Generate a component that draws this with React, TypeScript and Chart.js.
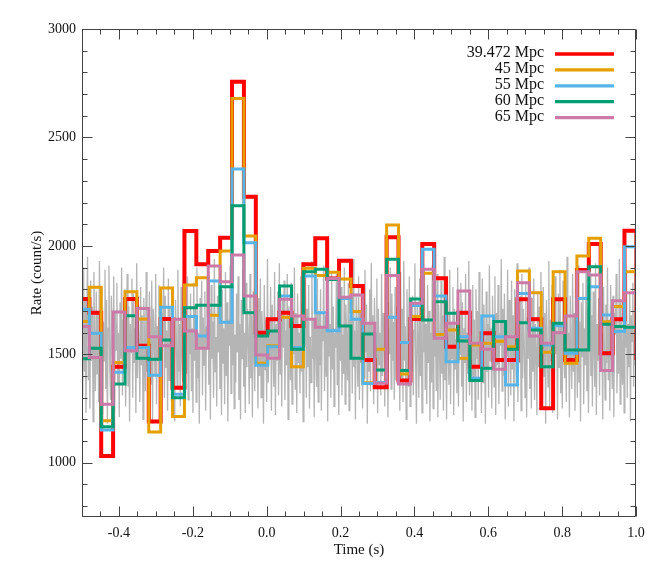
import React, { useEffect, useRef } from 'react';
import { Chart, registerables } from 'chart.js';

Chart.register(...registerables);

// Histogram binning (seconds)
const binStart = -0.5124;
const binWidth = 0.0322;

// Binned rates (count/s), one value per bin
const rate39472 = [1755, 1692, 1031, 1443, 1755, 1539, 1190, 1663, 1346, 2069, 1915, 1977, 2038, 2757, 2227, 1600, 1662, 1692, 1631, 1915, 2035, 1850, 1932, 1815, 1474, 1348, 2040, 1379, 1663, 2009, 1851, 1535, 1692, 1443, 1597, 1474, 1474, 1754, 1662, 1251, 1754, 1474, 1889, 2009, 1505, 1662, 2070, 1474];
const rate45 = [1651, 1809, 1194, 1462, 1789, 1663, 1142, 1806, 1213, 1820, 1853, 1680, 1977, 2680, 2046, 1459, 1540, 1671, 1443, 1897, 1863, 1878, 1847, 1697, 1369, 1523, 2096, 1409, 1674, 1874, 1592, 1612, 1482, 1543, 1551, 1560, 1535, 1884, 1784, 1510, 1881, 1459, 1953, 2035, 1650, 1720, 1881, 1566];
const rate55 = [1708, 1597, 1151, 1417, 1532, 1532, 1403, 1717, 1316, 1674, 1585, 1838, 1648, 2355, 2015, 1450, 1535, 1769, 1532, 1861, 1692, 1609, 1757, 1662, 1366, 1370, 1671, 1554, 1725, 1984, 1769, 1466, 1581, 1390, 1677, 1581, 1359, 1781, 1620, 1543, 1632, 1505, 1758, 1812, 1681, 1605, 1996, 1720];
const rate60 = [1480, 1528, 1166, 1363, 1678, 1482, 1477, 1566, 1300, 1715, 1726, 1726, 1812, 2185, 1692, 1585, 1608, 1815, 1523, 1881, 1892, 1845, 1631, 1482, 1594, 1428, 1938, 1425, 1755, 1658, 1743, 1689, 1562, 1379, 1436, 1651, 1523, 1646, 1612, 1443, 1643, 1520, 1520, 1904, 1639, 1628, 1625, 1689];
const rate65 = [1628, 1485, 1270, 1695, 1517, 1711, 1581, 1540, 1662, 1608, 1528, 1907, 1835, 1958, 1769, 1497, 1482, 1754, 1677, 1662, 1625, 1850, 1763, 1774, 1643, 1367, 1864, 1363, 1735, 1892, 1574, 1643, 1792, 1551, 1523, 1431, 1581, 1830, 1585, 1551, 1600, 1677, 1881, 1866, 1425, 1747, 1784, 1512];

const seriesLabels = ['39.472 Mpc', '45 Mpc', '55 Mpc', '60 Mpc', '65 Mpc'];
const seriesColors = ['#ff0000', '#e69f00', '#56b4e9', '#009e73', '#cc79a7'];
const seriesWidths = [4, 3, 3, 3, 3];

// Fine-resolution light curve (count/s), evenly spaced from -0.5 s to 1.0 s
const fineStart = -0.5;
const fineEnd = 1.0;
const fineRate = [
  1820, 1310, 1900, 1420, 1760, 1230, 1680, 1950, 1380, 1600, 1250, 1840, 1470, 1720, 1190, 1880, 1540, 1330, 1790, 1410,
  1700, 1280, 1930, 1500, 1360, 1810, 1220, 1650, 1470, 1890, 1340, 1750, 1180, 1620, 1910, 1450, 1290, 1770, 1560, 1400,
  1860, 1240, 1690, 1520, 1830, 1370, 1600, 1210, 1740, 1480, 1900, 1310, 1660, 1430, 1800, 1260, 1580, 1870, 1350, 1720,
  1190, 1640, 1510, 1850, 1300, 1780, 1460, 1620, 1230, 1920, 1390, 1700, 1540, 1280, 1810, 1450, 1680, 1200, 1760, 1570,
  1330, 1880, 1420, 1650, 1250, 1790, 1500, 1360, 1840, 1180, 1710, 1590, 1400, 1870, 1270, 1630, 1480, 1820, 1340, 1740,
  1210, 1690, 1560, 1900, 1300, 1770, 1440, 1610, 1240, 1850, 1380, 1720, 1520, 1280, 1800, 1460, 1660, 1190, 1750, 1590,
  1350, 1890, 1420, 1640, 1260, 1810, 1490, 1370, 1930, 1220, 1700, 1550, 1410, 1860, 1290, 1680, 1500, 1780, 1330, 1620,
  1230, 1830, 1470, 1720, 1280, 1900, 1390, 1600, 1180, 1760, 1530, 1840, 1310, 1670, 1450, 1790, 1240, 1630, 1560, 1880,
  1360, 1710, 1200, 1820, 1480, 1650, 1300, 1940, 1420, 1580, 1260, 1770, 1510, 1850, 1340, 1690, 1220, 1800, 1460, 1620,
  1270, 1880, 1400, 1740, 1190, 1660, 1540, 1910, 1320, 1700, 1450, 1820, 1250, 1590, 1370, 1780, 1510, 1860, 1290, 1640,
  1200, 1750, 1480, 1890, 1350, 1600, 1230, 1830, 1440, 1710, 1560, 1270, 1870, 1390, 1680, 1210, 1790, 1520, 1330, 1900,
  1460, 1620, 1250, 1760, 1400, 1850, 1300, 1700, 1570, 1180, 1820, 1430, 1660, 1280, 1940, 1370, 1590, 1490, 1810, 1240,
  1730, 1550, 1350, 1880, 1220, 1640, 1470, 1790, 1310, 1920, 1410, 1680, 1260, 1750, 1530, 1840, 1290, 1610, 1450, 1870,
  1200, 1720, 1580, 1380, 1830, 1270, 1650, 1500, 1900, 1340, 1690, 1230, 1780, 1460, 1600, 1320, 1860, 1420, 1740, 1190,
  1630, 1540, 1890, 1300, 1710, 1440, 1820, 1250, 1580, 1370, 1930, 1480, 1660, 1210, 1770, 1520, 1350, 1850, 1280, 1700,
  1450, 1800, 1240, 1620, 1560, 1910, 1330, 1680, 1400, 1760, 1190, 1840, 1490, 1640, 1300, 1880, 1430, 1720, 1260, 1600,
  1530, 1870, 1360, 1750, 1220, 1690, 1470, 1810, 1310, 1590, 1410, 1900, 1270, 1730, 1550, 1380, 1830, 1240, 1660, 1500,
  1790, 1320, 1940, 1440, 1610, 1200, 1780, 1570, 1350, 1860, 1290, 1700, 1460, 1820, 1250, 1650, 1390, 1890, 1510, 1730,
  1180, 1640, 1420, 1800, 1330, 1920, 1480, 1680, 1270, 1760, 1540, 1370, 1850, 1230, 1710, 1450, 1600, 1310, 1870, 1400,
  1690, 1560, 1260, 1830, 1430, 1740, 1210, 1620, 1500, 1900, 1340, 1780, 1470, 1650, 1290, 1810, 1380, 1720, 1550, 1840,
  1560, 1240, 1880, 1390, 1710, 1280, 1930, 1470, 1630, 1200, 1800, 1540, 1350, 1860, 1260, 1690, 1420, 1770, 1310, 1610,
  1920, 1450, 1180, 1740, 1580, 1300, 1850, 1400, 1670, 1230, 1790, 1510, 1890, 1340, 1640, 1270, 1820, 1460, 1700, 1190,
  1600, 1370, 1910, 1250, 1760, 1490, 1620, 1330, 1870, 1210, 1730, 1550, 1290, 1840, 1410, 1680, 1240, 1950, 1380, 1590,
  1200, 1780, 1520, 1360, 1890, 1270, 1650, 1480, 1810, 1220, 1710, 1430, 1570, 1320, 1900, 1260, 1690, 1500, 1830, 1350,
  1740, 1190, 1620, 1460, 1870, 1280, 1600, 1410, 1930, 1310, 1760, 1530, 1240, 1820, 1390, 1660, 1210, 1800, 1480, 1700,
  1290, 1880, 1440, 1580, 1230, 1850, 1370, 1730, 1560, 1180, 1790, 1420, 1640, 1300, 1910, 1470, 1620, 1250, 1770, 1510,
  1350, 1860, 1220, 1690, 1450, 1820, 1270, 1600, 1540, 1940, 1330, 1710, 1400, 1780, 1200, 1650, 1490, 1890, 1260, 1750,
  1580, 1310, 1840, 1430, 1680, 1190, 1800, 1520, 1360, 1920, 1280, 1620, 1460, 1770, 1240, 1870, 1390, 1710, 1550, 1300,
  1830, 1210, 1670, 1480, 1900, 1340, 1590, 1250, 1760, 1420, 1850, 1290, 1640, 1510, 1220, 1790, 1440, 1720, 1330, 1880,
  1600, 1270, 1810, 1400, 1690, 1180, 1750, 1560, 1350, 1930, 1260, 1660, 1470, 1820, 1230, 1700, 1380, 1860, 1500, 1610,
  1200, 1780, 1440, 1890, 1320, 1640, 1250, 1840, 1530, 1390, 1720, 1280, 1950, 1460, 1600, 1210, 1770, 1510, 1340, 1870,
  1420, 1690, 1240, 1800, 1570, 1300, 1910, 1370, 1650, 1190, 1740, 1490, 1830, 1270, 1620, 1450, 1880, 1330, 1710, 1230,
  1580, 1860, 1400, 1680, 1260, 1790, 1520, 1350, 1920, 1220, 1640, 1470, 1760, 1310, 1850, 1430, 1600, 1200, 1810, 1550,
  1290, 1730, 1460, 1900, 1380, 1660, 1240, 1820, 1500, 1340, 1770, 1210, 1690, 1590, 1870, 1320, 1620, 1410, 1940, 1270,
  1750, 1480, 1360, 1840, 1230, 1700, 1530, 1890, 1300, 1640, 1440, 1780, 1190, 1680, 1560, 1830, 1350, 1610, 1450, 1860,
];

const xTickValues = [-0.4, -0.2, 0.0, 0.2, 0.4, 0.6, 0.8, 1.0];
const yTickValues = [1000, 1500, 2000, 2500, 3000];
const xMinorStep = 0.05;
const yMinorStep = 100;
const xRange = [-0.5, 1.0];
const yRange = [750, 3000];
const xTitle = 'Time (s)';
const yTitle = 'Rate (count/s)';

const FONT = "'Liberation Serif', 'Times New Roman', serif";

function stepPoints(values: number[]) {
  const pts = values.map((v, i) => ({ x: binStart + i * binWidth, y: v }));
  pts.push({ x: binStart + values.length * binWidth, y: values[values.length - 1] });
  return pts;
}

const framePlugin = {
  id: 'idlFrame',
  afterDatasetsDraw(chart: any) {
    const { ctx, chartArea: a, scales } = chart;
    const xs = scales.x;
    const ys = scales.y;
    ctx.save();
    ctx.strokeStyle = '#444';
    ctx.lineWidth = 1;
    const L = Math.round(a.left) + 0.5;
    const R = Math.round(a.right) - 0.5;
    const T = Math.round(a.top) + 0.5;
    const B = Math.round(a.bottom) - 0.5;
    ctx.beginPath();
    ctx.moveTo(L, T); ctx.lineTo(R, T); ctx.lineTo(R, B); ctx.lineTo(L, B); ctx.closePath();
    ctx.stroke();

    const near = (v: number, arr: number[]) => arr.some((t) => Math.abs(t - v) < 1e-6);
    ctx.beginPath();
    for (let v = xRange[0]; v <= xRange[1] + 1e-9; v += xMinorStep) {
      const vv = Math.round(v * 1000) / 1000;
      const px = Math.round(xs.getPixelForValue(vv)) + 0.5;
      const len = near(vv, xTickValues) ? 10 : 5;
      ctx.moveTo(px, B); ctx.lineTo(px, B - len);
      ctx.moveTo(px, T); ctx.lineTo(px, T + len);
    }
    for (let v = yRange[0] + 50; v <= yRange[1] + 1e-9; v += yMinorStep) {
      const py = Math.round(ys.getPixelForValue(v)) + 0.5;
      const len = near(v, yTickValues) ? 10 : 5;
      ctx.moveTo(L, py); ctx.lineTo(L + len, py);
      ctx.moveTo(R, py); ctx.lineTo(R - len, py);
    }
    ctx.stroke();

    // axis titles
    ctx.fillStyle = '#111';
    ctx.font = `15px ${FONT}`;
    ctx.textAlign = 'center';
    ctx.textBaseline = 'middle';
    ctx.fillText(xTitle, (a.left + a.right) / 2, 550);
    ctx.save();
    ctx.translate(37, (a.top + a.bottom) / 2);
    ctx.rotate(-Math.PI / 2);
    ctx.fillText(yTitle, 0, 0);
    ctx.restore();

    // legend
    ctx.font = `16px ${FONT}`;
    ctx.textAlign = 'right';
    seriesLabels.forEach((lab, i) => {
      const yy = a.top + 24 + i * 15.9;
      ctx.fillStyle = '#111';
      ctx.fillText(lab, a.right - 92, yy);
      ctx.strokeStyle = seriesColors[i];
      ctx.lineWidth = 3.3;
      ctx.beginPath();
      ctx.moveTo(a.right - 81, yy + 1);
      ctx.lineTo(a.right - 22, yy + 1);
      ctx.stroke();
    });
    ctx.restore();
  },
};

export default function App() {
  const ref = useRef<HTMLCanvasElement | null>(null);
  useEffect(() => {
    document.body.style.margin = '0';
    const canvas = ref.current;
    if (!canvas) return;
    const series = [rate39472, rate45, rate55, rate60, rate65];
    const stepSets = series.map((vals, i) => ({
      label: seriesLabels[i],
      data: stepPoints(vals),
      borderColor: seriesColors[i],
      borderWidth: seriesWidths[i],
      stepped: true,
      pointRadius: 0,
      fill: false,
      borderJoinStyle: 'miter',
      borderCapStyle: 'butt',
      clip: 0,
    }));
    const fineStep = (fineEnd - fineStart) / (fineRate.length - 1);
    const fineSet = {
      label: 'fine',
      data: fineRate.map((v, i) => ({ x: fineStart + i * fineStep, y: v })),
      borderColor: '#b5b5b5',
      borderWidth: 1.3,
      pointRadius: 0,
      fill: false,
      clip: 0,
    };
    // earlier index is drawn on top: pink on top, grey at bottom
    const datasets: any[] = [...stepSets].reverse();
    datasets.push(fineSet);

    const chart = new Chart(canvas, {
      type: 'line',
      data: { datasets },
      options: {
        responsive: false,
        animation: false,
        devicePixelRatio: 1,
        layout: { padding: { top: 29, right: 28, left: 0, bottom: 0 } },
        plugins: { legend: { display: false }, tooltip: { enabled: false }, title: { display: false } },
        scales: {
          x: {
            type: 'linear',
            min: xRange[0],
            max: xRange[1],
            grid: { display: false, drawTicks: false },
            border: { display: false },
            afterBuildTicks: (s: any) => { s.ticks = xTickValues.map((v) => ({ value: v })); },
            afterFit: (s: any) => { s.height = 53; },
            ticks: {
              padding: 8,
              color: '#111',
              font: { family: FONT, size: 14 },
              maxRotation: 0,
              autoSkip: false,
              callback: (v: any) => Number(v).toFixed(1),
            },
          },
          y: {
            type: 'linear',
            min: yRange[0],
            max: yRange[1],
            grid: { display: false, drawTicks: false },
            border: { display: false },
            afterBuildTicks: (s: any) => { s.ticks = yTickValues.map((v) => ({ value: v })); },
            afterFit: (s: any) => { s.width = 82; },
            ticks: {
              padding: 6,
              color: '#111',
              font: { family: FONT, size: 14 },
              autoSkip: false,
              callback: (v: any) => String(v),
            },
          },
        },
      },
      plugins: [framePlugin],
    } as any);
    return () => chart.destroy();
  }, []);
  return (
    <div style={{ position: 'absolute', left: 0, top: 0, width: 664, height: 570, background: '#fff' }}>
      <canvas ref={ref} width={664} height={570} style={{ display: 'block' }} />
    </div>
  );
}
